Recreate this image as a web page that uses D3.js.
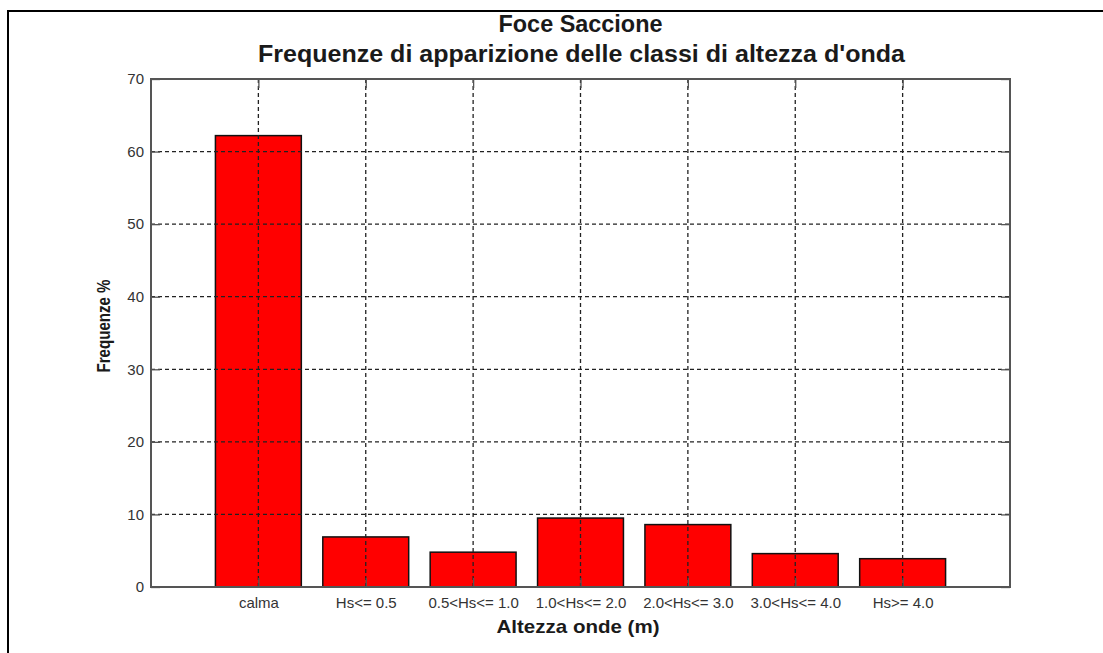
<!DOCTYPE html>
<html>
<head>
<meta charset="utf-8">
<script src="https://cdn.jsdelivr.net/npm/d3@7/dist/d3.min.js"></script>
<style>
  html, body { margin: 0; padding: 0; background: #fff; }
  svg { display: block; }
  text { font-family: Arial, "Liberation Sans", Helvetica, sans-serif; }
</style>
</head>
<body>
<svg id="chart" width="1103" height="653"></svg>
<script>
// Wave-height class frequencies (%)
const categories = ["calma", "Hs<= 0.5", "0.5<Hs<= 1.0", "1.0<Hs<= 2.0", "2.0<Hs<= 3.0", "3.0<Hs<= 4.0", "Hs>= 4.0"];
const frequencies = [62.2, 6.9, 4.8, 9.5, 8.6, 4.6, 3.9];
const yTicks = [0, 10, 20, 30, 40, 50, 60, 70];
const titleLines = ["Foce Saccione", "Frequenze di apparizione delle classi di altezza d'onda"];
const xLabel = "Altezza onde (m)";
const yLabel = "Frequenze %";

const svg = d3.select("#chart");
const W = 1103, H = 653;
const plot = { left: 151, right: 1010, top: 79, bottom: 587 };

// figure frame (top and left edges)
svg.append("path")
  .attr("d", `M8,${H} L8,11 L${W},11`)
  .attr("fill", "none").attr("stroke", "#000").attr("stroke-width", 2);

// x positions 1..n on a [0, n+1] axis, bar width 0.8
const x = d3.scaleLinear().domain([0, categories.length + 1]).range([plot.left, plot.right]);
const y = d3.scaleLinear().domain([0, 70]).range([plot.bottom, plot.top]);
const barW = x(0.8) - x(0);

const g = svg.append("g");

// bars
g.selectAll("rect.bar").data(frequencies).join("rect")
  .attr("class", "bar")
  .attr("x", (d, i) => x(i + 1) - barW / 2)
  .attr("y", d => y(d))
  .attr("width", barW)
  .attr("height", d => y(0) - y(d))
  .attr("fill", "#ff0000")
  .attr("stroke", "#111")
  .attr("stroke-width", 1.5);

// grid (drawn over the bars)
const gridStyle = s => s.attr("stroke", "#222").attr("stroke-width", 1.3).attr("stroke-dasharray", "4,3");
g.selectAll("line.hgrid").data(yTicks.slice(1, -1)).join("line")
  .attr("class", "hgrid")
  .attr("x1", plot.left).attr("x2", plot.right)
  .attr("y1", d => y(d)).attr("y2", d => y(d))
  .call(gridStyle);
g.selectAll("line.vgrid").data(categories).join("line")
  .attr("class", "vgrid")
  .attr("x1", (d, i) => x(i + 1)).attr("x2", (d, i) => x(i + 1))
  .attr("y1", plot.top).attr("y2", plot.bottom)
  .call(gridStyle);

// axes with inward ticks on all four sides
const tickLen = 9;
const axisColor = "#555";
const yAxisL = d3.axisLeft(y).tickValues(yTicks).tickSize(-tickLen).tickPadding(7);
const yAxisR = d3.axisRight(y).tickValues(yTicks).tickSize(-tickLen).tickFormat("");
const xAxisB = d3.axisBottom(x).tickValues(d3.range(1, categories.length + 1))
  .tickSize(-tickLen).tickPadding(10).tickFormat(d => categories[d - 1]);
const xAxisT = d3.axisTop(x).tickValues(d3.range(1, categories.length + 1)).tickSize(-tickLen).tickFormat("");

const styleAxis = sel => {
  sel.select(".domain").remove();
  sel.selectAll(".tick line").attr("stroke", axisColor).attr("stroke-width", 1.3);
  sel.selectAll(".tick text").attr("fill", "#333").style("font-size", "15px")
    .style("font-family", "Arial, 'Liberation Sans', sans-serif");
};
svg.append("g").attr("transform", `translate(${plot.left},0)`).call(yAxisL).call(styleAxis);
svg.append("g").attr("transform", `translate(${plot.right},0)`).call(yAxisR).call(styleAxis);
svg.append("g").attr("transform", `translate(0,${plot.bottom})`).call(xAxisB).call(styleAxis);
svg.append("g").attr("transform", `translate(0,${plot.top})`).call(xAxisT).call(styleAxis);

// axes box
svg.append("rect")
  .attr("x", plot.left).attr("y", plot.top)
  .attr("width", plot.right - plot.left).attr("height", plot.bottom - plot.top)
  .attr("fill", "none").attr("stroke", axisColor).attr("stroke-width", 2);

// titles
const cx = (plot.left + plot.right) / 2;
svg.append("text").attr("x", cx).attr("y", 32).attr("text-anchor", "middle")
  .attr("fill", "#1a1a1a").style("font-size", "23px").style("font-weight", "bold")
  .attr("textLength", 164).attr("lengthAdjust", "spacingAndGlyphs")
  .text(titleLines[0]);
svg.append("text").attr("x", cx + 1).attr("y", 62).attr("text-anchor", "middle")
  .attr("fill", "#1a1a1a").style("font-size", "23px").style("font-weight", "bold")
  .attr("textLength", 647).attr("lengthAdjust", "spacingAndGlyphs")
  .text(titleLines[1]);

// axis labels
svg.append("text").attr("x", 578).attr("y", 633).attr("text-anchor", "middle")
  .attr("fill", "#1a1a1a").style("font-size", "19px").style("font-weight", "bold")
  .attr("textLength", 163).attr("lengthAdjust", "spacingAndGlyphs")
  .text(xLabel);
svg.append("text").attr("transform", "translate(110,326) rotate(-90)").attr("text-anchor", "middle")
  .attr("fill", "#1a1a1a").style("font-size", "18px").style("font-weight", "bold")
  .attr("textLength", 93).attr("lengthAdjust", "spacingAndGlyphs")
  .text(yLabel);
</script>
</body>
</html>
